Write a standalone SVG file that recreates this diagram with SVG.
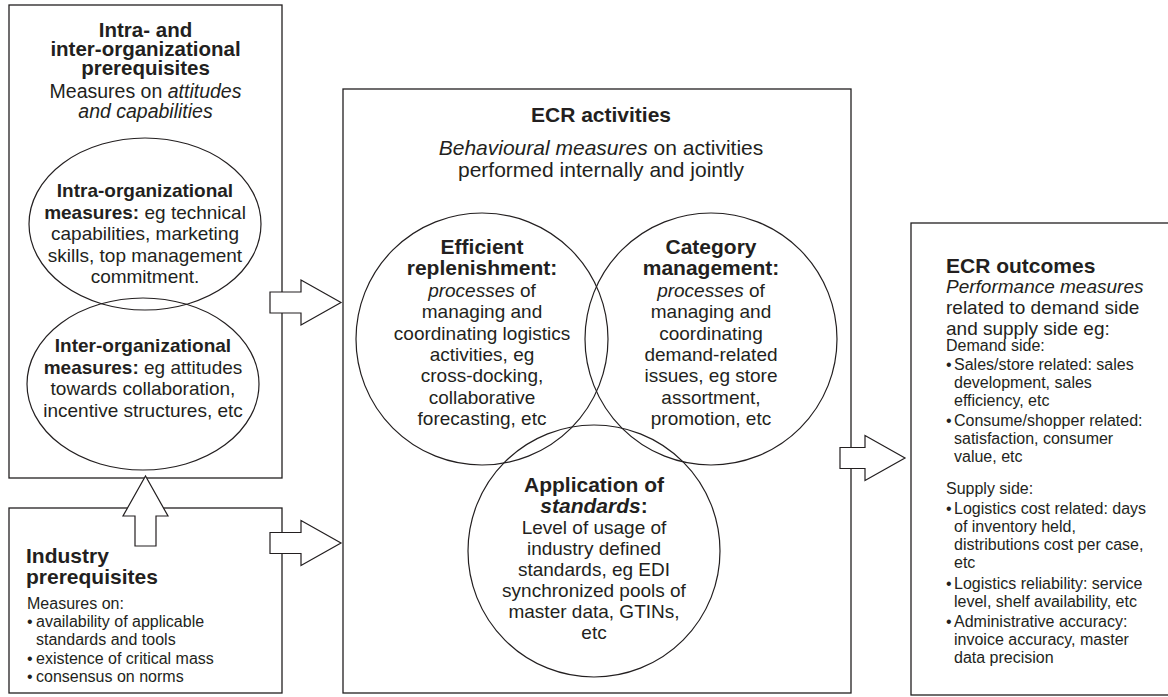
<svg xmlns="http://www.w3.org/2000/svg" width="1168" height="697" viewBox="0 0 1168 697">
<style>
.box{fill:#fff;stroke:#231f20;stroke-width:1.3}
.shape{fill:none;stroke:#231f20;stroke-width:1.2}
.arrow{fill:#fff;stroke:#231f20;stroke-width:1.2;stroke-linejoin:miter}
text{font-family:"Liberation Sans",Arial,Helvetica,sans-serif;fill:#231f20}
.c{text-anchor:middle}
.h{font-weight:bold;font-size:21px}
.t1{font-weight:bold;font-size:20.5px}
.s{font-size:19.5px}
.e{font-size:19px}
.eb{font-size:19px;font-weight:bold}
.m{font-size:21px}
.b{font-size:19px}
.sm{font-size:16px}
.i{font-style:italic}
.bold{font-weight:bold}
</style>

<g id="intra-inter-prerequisites">
  <rect class="box" x="9" y="5" width="273" height="473"/>
  <text class="t1 c" x="145.5" y="37">Intra- and</text>
  <text class="t1 c" x="145.5" y="56">inter-organizational</text>
  <text class="t1 c" x="145.5" y="75">prerequisites</text>
  <text class="s c" x="145.5" y="98">Measures on <tspan class="i">attitudes</tspan></text>
  <text class="s c i" x="145.5" y="118">and capabilities</text>
</g>

<g id="intra-organizational-measures">
  <ellipse class="shape" cx="145" cy="224" rx="116" ry="86"/>
  <text class="eb c" x="145" y="197">Intra-organizational</text>
  <text class="e c" x="145" y="218.5"><tspan class="bold">measures:</tspan> eg technical</text>
  <text class="e c" x="145" y="240">capabilities, marketing</text>
  <text class="e c" x="145" y="261.5">skills, top management</text>
  <text class="e c" x="145" y="283">commitment.</text>
</g>

<g id="inter-organizational-measures">
  <ellipse class="shape" cx="143" cy="384" rx="116" ry="86"/>
  <text class="eb c" x="143" y="352">Inter-organizational</text>
  <text class="e c" x="143" y="373.5"><tspan class="bold">measures:</tspan> eg attitudes</text>
  <text class="e c" x="143" y="395">towards collaboration,</text>
  <text class="e c" x="143" y="416.5">incentive structures, etc</text>
</g>

<g id="industry-prerequisites">
  <rect class="box" x="9" y="508" width="273" height="185"/>
  <text class="h" x="26" y="563">Industry</text>
  <text class="h" x="26" y="584">prerequisites</text>
  <text class="sm" x="27" y="609">Measures on:</text>
  <text class="sm" x="27" y="627">•</text>
  <text class="sm" x="36" y="627">availability of applicable</text>
  <text class="sm" x="36" y="645">standards and tools</text>
  <text class="sm" x="27" y="664">•</text>
  <text class="sm" x="36" y="664">existence of critical mass</text>
  <text class="sm" x="27" y="682">•</text>
  <text class="sm" x="36" y="682">consensus on norms</text>
</g>

<g id="ecr-activities">
  <rect class="box" x="343" y="89" width="508" height="604"/>
  <text class="h c" x="601" y="122">ECR activities</text>
  <text class="m c" x="601" y="155"><tspan class="i">Behavioural measures</tspan> on activities</text>
  <text class="m c" x="601" y="177">performed internally and jointly</text>
</g>

<g id="efficient-replenishment">
  <circle class="shape" cx="482" cy="339" r="126"/>
  <text class="h c" x="482" y="254">Efficient</text>
  <text class="h c" x="482" y="275.4">replenishment:</text>
  <text class="b c" x="482" y="296.8"><tspan class="i">processes</tspan> of</text>
  <text class="b c" x="482" y="318.2">managing and</text>
  <text class="b c" x="482" y="339.6">coordinating logistics</text>
  <text class="b c" x="482" y="361">activities, eg</text>
  <text class="b c" x="482" y="382.4">cross-docking,</text>
  <text class="b c" x="482" y="403.8">collaborative</text>
  <text class="b c" x="482" y="425.2">forecasting, etc</text>
</g>

<g id="category-management">
  <circle class="shape" cx="711" cy="339" r="126"/>
  <text class="h c" x="711" y="254">Category</text>
  <text class="h c" x="711" y="275.4">management:</text>
  <text class="b c" x="711" y="296.8"><tspan class="i">processes</tspan> of</text>
  <text class="b c" x="711" y="318.2">managing and</text>
  <text class="b c" x="711" y="339.6">coordinating</text>
  <text class="b c" x="711" y="361">demand-related</text>
  <text class="b c" x="711" y="382.4">issues, eg store</text>
  <text class="b c" x="711" y="403.8">assortment,</text>
  <text class="b c" x="711" y="425.2">promotion, etc</text>
</g>

<g id="application-of-standards">
  <circle class="shape" cx="594" cy="551" r="126"/>
  <text class="h c" x="594" y="492">Application of</text>
  <text class="h c" x="594" y="513"><tspan class="i">standards</tspan>:</text>
  <text class="b c" x="594" y="534">Level of usage of</text>
  <text class="b c" x="594" y="555">industry defined</text>
  <text class="b c" x="594" y="576">standards, eg EDI</text>
  <text class="b c" x="594" y="597">synchronized pools of</text>
  <text class="b c" x="594" y="618">master data, GTINs,</text>
  <text class="b c" x="594" y="639">etc</text>
</g>

<g id="ecr-outcomes">
  <rect class="box" x="911" y="223" width="262" height="472"/>
  <text class="h" x="946" y="273">ECR outcomes</text>
  <text class="b i" x="946" y="293">Performance measures</text>
  <text class="b" x="946" y="314">related to demand side</text>
  <text class="b" x="946" y="335">and supply side eg:</text>
  <text class="sm" x="946" y="351">Demand side:</text>
  <text class="sm" x="946" y="370">•</text>
  <text class="sm" x="954" y="370">Sales/store related: sales</text>
  <text class="sm" x="954" y="388">development, sales</text>
  <text class="sm" x="954" y="406">efficiency, etc</text>
  <text class="sm" x="946" y="426">•</text>
  <text class="sm" x="954" y="426">Consume/shopper related:</text>
  <text class="sm" x="954" y="444">satisfaction, consumer</text>
  <text class="sm" x="954" y="462">value, etc</text>
  <text class="sm" x="946" y="494">Supply side:</text>
  <text class="sm" x="946" y="514">•</text>
  <text class="sm" x="954" y="514">Logistics cost related: days</text>
  <text class="sm" x="954" y="532">of inventory held,</text>
  <text class="sm" x="954" y="550">distributions cost per case,</text>
  <text class="sm" x="954" y="568">etc</text>
  <text class="sm" x="946" y="589">•</text>
  <text class="sm" x="954" y="589">Logistics reliability: service</text>
  <text class="sm" x="954" y="607">level, shelf availability, etc</text>
  <text class="sm" x="946" y="627">•</text>
  <text class="sm" x="954" y="627">Administrative accuracy:</text>
  <text class="sm" x="954" y="645">invoice accuracy, master</text>
  <text class="sm" x="954" y="663">data precision</text>
</g>

<g id="connectors">
  <polygon class="arrow" points="270,292 301,292 301,280 341,302.5 301,325 301,313 270,313"/>
  <polygon class="arrow" points="270,532.5 301,532.5 301,520.5 341,543 301,565.5 301,553.5 270,553.5"/>
  <polygon class="arrow" points="135,546 135,516 123,516 145.5,476 168,516 156,516 156,546"/>
  <polygon class="arrow" points="840,447.5 865,447.5 865,435.5 905,458 865,480.5 865,468.5 840,468.5"/>
</g>
</svg>
